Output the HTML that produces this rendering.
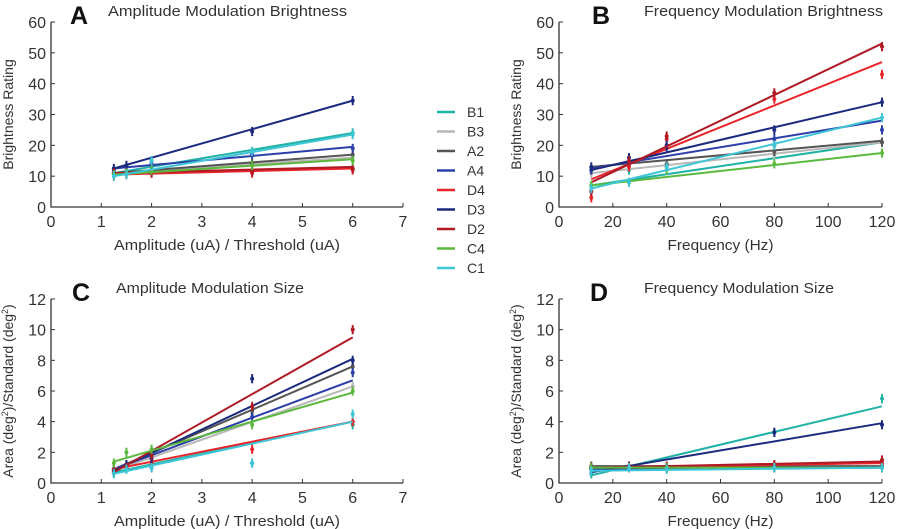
<!DOCTYPE html>
<html><head><meta charset="utf-8"><style>
body{margin:0;background:#fff;}
svg{display:block;font-family:"Liberation Sans",sans-serif;}
</style></head><body>
<svg id="chart" width="905" height="529"></svg>
<script>
const seriesNames=["B1","B3","A2","A4","D4","D3","D2","C4","C1"];
const seriesColors=["#20b2a6","#b8b8b8","#555555","#2c3fa8","#e8252b","#1c2a7e","#b01a24","#5cb83c","#3ec6d6"];
const ampX=[1.25,1.5,2,4,6];
const freqX=[12,26,40,80,120];
const aFitStart=[11,11,11,12.5,10.5,12.5,11,10.5,10];
const aFitEnd=[24,16,17,19.5,12.5,34.5,13,15.5,23.5];
const aPts=[[11,11,13,18,24],[11,11,12,14,16],[11,11,12,14,17],[12,13,14,17,19],[10,10.5,11,11,12],[12.5,13.5,15,24.5,34.5],[11,11,11,11.5,12.5],[10.5,11,12,13.5,15],[10,10.5,15,18,23.5]];
const bFitStart=[7,11,13,12.5,9,12,8,7,6];
const bFitEnd=[21,21,21.5,28,47,34,53,17.5,29];
const bPts=[[7,12,13,20,21],[11,13,13,17,21],[12,14,14,18,21],[12,14,19,22,25],[3,13,22,35,43],[13,16,20,25,34],[5,15,23,37,52],[7,8,12,14,17.5],[6,8,13,20,29]];
const cFitStart=[0.7,0.8,0.9,0.9,0.9,0.8,0.7,1.4,0.6];
const cFitEnd=[4,6.3,7.6,6.7,4,8.1,9.5,5.9,4];
const cPts=[[0.7,0.9,1,1.3,3.8],[0.8,1,1.5,4.5,6.3],[0.9,1.2,1.8,4.7,7.6],[0.9,1.2,1,4.3,7.2],[0.9,1,1.3,2.2,4],[0.8,1.2,1.6,6.8,8],[0.7,1,1.8,5,10],[1.3,2,2.2,3.8,6],[0.6,0.9,1,1.3,4.5]];
const dFitStart=[0.5,1,1.1,0.9,1,0.7,1,1,0.8];
const dFitEnd=[5,1,1.1,1,1.3,3.9,1.4,1,1];
const dPts=[[0.6,1.1,1,3.3,5.5],[1,1,1,1,1],[1.1,1,1,1.1,1.1],[0.9,1,1,1,1],[1,1,1,1.1,1.3],[0.9,1.1,1,3.3,3.8],[1,1.1,1.1,1.2,1.5],[1,1,1,1,1],[0.8,1,0.9,1,1]];
const ampTicks=[0,1,2,3,4,5,6,7];
const freqTicks=[0,20,40,60,80,100,120];
const brightTicks=[0,10,20,30,40,50,60];
const sizeTicks=[0,2,4,6,8,10,12];

const NS="http://www.w3.org/2000/svg";
const svg=document.getElementById("chart");
function mk(tag,attrs,parent,text){const e=document.createElementNS(NS,tag);for(const k in attrs)e.setAttribute(k,attrs[k]);if(text!==undefined)e.textContent=text;(parent||svg).appendChild(e);return e;}

function panel(cfg){
  const g=mk("g",{});
  
  
  const sx=v=>cfg.x0+(v-cfg.xmin)/(cfg.xmax-cfg.xmin)*(cfg.x1-cfg.x0);
  const sy=v=>cfg.y0-(v-cfg.ymin)/(cfg.ymax-cfg.ymin)*(cfg.y0-cfg.y1);
  const ax=mk("path",{d:`M${cfg.x0},${cfg.y1}V${cfg.y0}H${cfg.x1}`,stroke:"#333",fill:"none","stroke-width":1.3},g);
  
  
  cfg.xt.forEach(t=>{
    const x=sx(t);
    mk("line",{x1:x,x2:x,y1:cfg.y0,y2:cfg.y0-4,stroke:"#333"},g);
    const l=mk("text",{x:x,y:cfg.y0+20,"text-anchor":"middle","font-size":16,fill:"#333"},g,t);
    
    
  });
  cfg.yt.forEach(t=>{
    const y=sy(t);
    mk("line",{x1:cfg.x0,x2:cfg.x0+4,y1:y,y2:y,stroke:"#333"},g);
    const l=mk("text",{x:cfg.x0-5,y:y+6,"text-anchor":"end","font-size":16,fill:"#333"},g,t);
    
    
  });
  const L=mk("text",{x:cfg.letterX,y:cfg.y1+2,"font-size":25,"font-weight":"bold",fill:"#111"},g,cfg.letter);
  
  
  const T=mk("text",{x:cfg.titleX,y:cfg.y1-6,"font-size":15,fill:"#333",textLength:cfg.titleW,lengthAdjust:"spacingAndGlyphs"},g,cfg.title);
  
  
  const XL=mk("text",{x:(cfg.x0+cfg.x1)/2,y:cfg.y0+43,"text-anchor":"middle","font-size":15,fill:"#333",textLength:cfg.xlW,lengthAdjust:"spacingAndGlyphs"},g,cfg.xlabel);
  
  
  const YL=mk("text",{transform:`translate(${cfg.ylx},${(cfg.y0+cfg.y1)/2}) rotate(-90)`,"text-anchor":"middle","font-size":14,fill:"#333"},g);
  YL.innerHTML=cfg.ylabel;
  
  
  const xs=cfg.xs, xa=xs[0], xb=xs[xs.length-1];
  seriesNames.forEach((n,i)=>{
    const c=seriesColors[i];
    const ln=mk("line",{x1:sx(xa),y1:sy(cfg.fs[i]),x2:sx(xb),y2:sy(cfg.fe[i]),stroke:c,"stroke-width":2},g);
    
    
    cfg.pts[i].forEach((v,j)=>{
      const e=cfg.err;
      const eb=mk("line",{x1:sx(xs[j]),x2:sx(xs[j]),y1:sy(v-e),y2:sy(v+e),stroke:c,"stroke-width":2},g);
      
      
      const p=mk("circle",{cx:sx(xs[j]),cy:sy(v),r:2,fill:c},g);
      
      
    });
  });
}
const sizeLabel='Area (deg<tspan font-size="9" dy="-5">2</tspan><tspan dy="5">)/Standard (deg</tspan><tspan font-size="9" dy="-5">2</tspan><tspan dy="5">)</tspan>';
panel({name:"panel-a",letter:"A",title:"Amplitude Modulation Brightness",titleW:239,letterX:70,titleX:108,x0:51,x1:403,y0:207,y1:22,xmin:0,xmax:7,ymin:0,ymax:60,xt:ampTicks,yt:brightTicks,xs:ampX,fs:aFitStart,fe:aFitEnd,pts:aPts,err:1.5,xlabel:"Amplitude (uA) / Threshold (uA)",xlW:226,ylabel:"Brightness Rating",ylx:13});
panel({name:"panel-b",letter:"B",title:"Frequency Modulation Brightness",titleW:239,letterX:592,titleX:644,x0:559,x1:882,y0:207,y1:22,xmin:0,xmax:120,ymin:0,ymax:60,xt:freqTicks,yt:brightTicks,xs:freqX,fs:bFitStart,fe:bFitEnd,pts:bPts,err:1.5,xlabel:"Frequency (Hz)",xlW:106,ylabel:"Brightness Rating",ylx:521});
panel({name:"panel-c",letter:"C",title:"Amplitude Modulation Size",titleW:188,letterX:72,titleX:116,x0:51,x1:403,y0:483,y1:299,xmin:0,xmax:7,ymin:0,ymax:12,xt:ampTicks,yt:sizeTicks,xs:ampX,fs:cFitStart,fe:cFitEnd,pts:cPts,err:0.3,xlabel:"Amplitude (uA) / Threshold (uA)",xlW:226,ylabel:sizeLabel,ylx:13});
panel({name:"panel-d",letter:"D",title:"Frequency Modulation Size",titleW:190,letterX:590,titleX:644,x0:559,x1:882,y0:483,y1:299,xmin:0,xmax:120,ymin:0,ymax:12,xt:freqTicks,yt:sizeTicks,xs:freqX,fs:dFitStart,fe:dFitEnd,pts:dPts,err:0.3,xlabel:"Frequency (Hz)",xlW:106,ylabel:sizeLabel,ylx:521});

const leg=mk("g",{});


seriesNames.forEach((n,i)=>{
  const y=112+i*19.5;
  const ln=mk("line",{x1:437,x2:455,y1:y,y2:y,stroke:seriesColors[i],"stroke-width":2.5},leg);
  
  
  const t=mk("text",{x:467,y:y+5,"font-size":14,fill:"#333"},leg,n);
  
  
});
</script>
</body></html>
